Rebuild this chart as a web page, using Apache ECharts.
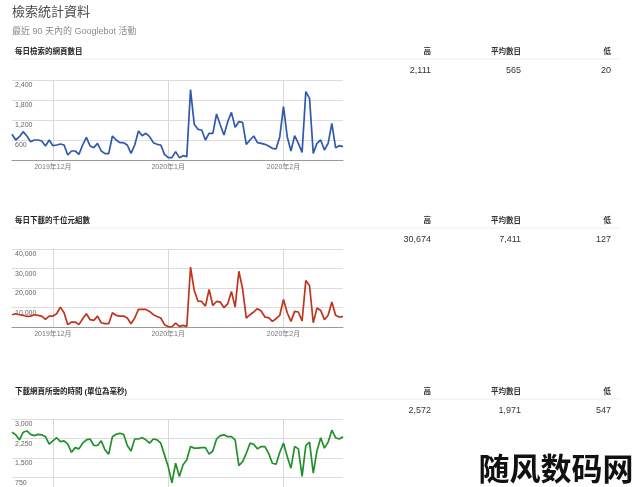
<!DOCTYPE html>
<html><head><meta charset="utf-8">
<script src="https://cdn.jsdelivr.net/npm/echarts@6/dist/echarts.min.js"></script>
<style>html,body{margin:0;padding:0;background:#fff;overflow:hidden}#c{width:640px;height:530px}</style>
</head><body><div id="c"></div>
<script>
// 90 daily points, 2019-11-20 .. 2020-02-17
const startDate = [2019, 10, 20];
const dayCount = 90;

const pagesCrawled = [770,600,700,850,720,550,600,600,570,420,600,430,450,480,450,150,270,270,170,450,
  680,420,370,500,270,190,190,720,600,520,520,450,200,450,870,730,800,700,520,470,
  450,170,70,70,250,70,130,100,2111,1070,920,900,600,800,800,1380,1050,750,1150,1430,
  980,1150,1130,470,600,720,520,500,470,420,350,330,700,1600,700,270,730,500,230,2050,
  1850,200,500,600,300,500,1100,370,430,400];
const kbDownloaded = [6300,6800,6300,6000,5400,5600,6300,6000,5600,3900,5600,5600,6800,10200,7300,1200,2550,2550,1200,4250,
  6800,3750,3400,5600,2200,1700,1700,7300,6000,5600,5600,4600,1700,4600,9000,9000,9000,8000,6300,5400,
  4600,1200,200,127,2000,350,850,350,30674,18700,13300,13100,10700,19200,11000,13100,12800,9900,11900,18200,
  10200,28600,19600,4600,6300,7700,9400,8200,5100,4800,2900,4250,6000,14100,7300,2900,8000,7700,3100,23800,
  21300,2200,9700,8500,3750,6000,12800,6000,5100,5400];
const downloadMs = [2490,2390,2200,2490,2540,2410,2360,2410,2390,2320,2030,2160,2280,2130,2160,2030,1720,1900,1850,2070,
  2200,2230,1980,1980,2160,1810,1650,2320,2410,2450,2410,1980,1770,2230,2230,2280,2200,2070,2230,2200,
  2070,1620,1170,547,1300,790,1240,1430,1940,1880,1880,1900,1900,1650,1770,2230,2360,2390,2320,2320,
  2200,1210,1360,1680,2070,2030,1850,1940,1940,1680,1300,1260,1720,2070,1560,1110,1940,1850,790,1980,
  2110,920,1770,2280,1880,2110,2572,2280,2230,2320];

const sectionTitles = ['每日檢索的網頁數目','每日下載的千位元組數','下載網頁所需的時間 (單位為毫秒)'];
const statHeaders = ['高','平均數目','低'];
const statValues = [['2,111','565','20'],['30,674','7,411','127'],['2,572','1,971','547']];
const yMax = [2400, 40000, 3000];
const yInterval = [600, 10000, 750];
const colors = ['#2f59ad','#c0331d','#22902a'];

const dates = [];
for (let i = 0; i < dayCount; i++) {
  const d = new Date(Date.UTC(startDate[0], startDate[1], startDate[2] + i));
  dates.push(d.getUTCFullYear() + '-' + String(d.getUTCMonth()+1).padStart(2,'0') + '-' + String(d.getUTCDate()).padStart(2,'0'));
}
const isMonthStart = (i, v) => (typeof v === 'string' ? v : dates[i]).endsWith('-01');

const FONT = 'Arial, "Liberation Sans", "Noto Sans CJK TC", sans-serif';
const chartTops = [80, 249, 419];
const chartHeights = [80, 78, 78];
const headerY = [52, 221, 392];
const valueY = [71, 240, 411];
const statRight = [431, 521, 611];
const seriesData = [pagesCrawled, kbDownloaded, downloadMs];

const grids = [], xAxes = [], yAxes = [], series = [], graphics = [];
graphics.push({type:'text', left:12, top:6, style:{text:'檢索統計資料', font:'13px ' + FONT, fill:'#4a4a4a'}});
graphics.push({type:'text', left:12, top:27, style:{text:'最近 90 天內的 Googlebot 活動', font:'9px ' + FONT, fill:'#8a8a8a'}});

for (let k = 0; k < 3; k++) {
  grids.push({left:12, width:331, top:chartTops[k], height:chartHeights[k]});
  xAxes.push({type:'category', gridIndex:k, data:dates, boundaryGap:false,
    axisLine:{lineStyle:{color:'#9a9a9a'}}, axisTick:{show:false},
    axisLabel:{interval:isMonthStart, fontSize:7, color:'#777', margin:4, fontFamily:FONT,
      formatter:v => { const p=v.split('-'); return p[0]+'年'+parseInt(p[1])+'月'; }},
    splitLine:{show:true, interval:isMonthStart, lineStyle:{color:'#d8d8d8'}}});
  yAxes.push({type:'value', gridIndex:k, min:0, max:yMax[k], interval:yInterval[k],
    axisLine:{show:false}, axisTick:{show:false},
    axisLabel:{inside:true, margin:3, align:'left', verticalAlign:'top', padding:[2,0,0,0], fontSize:7, color:'#666', fontFamily:FONT, showMinLabel:false},
    splitLine:{lineStyle:{color:'#dcdcdc'}}});
  series.push({type:'line', xAxisIndex:k, yAxisIndex:k, data:seriesData[k], symbol:'none',
    lineStyle:{color:colors[k], width:1.7}, itemStyle:{color:colors[k]}, animation:false});
  graphics.push({type:'text', left:15, top:headerY[k]-4, style:{text:sectionTitles[k], font:'bold 7.5px ' + FONT, fill:'#222'}});
  graphics.push({type:'line', shape:{x1:12, y1:headerY[k]+7, x2:620, y2:headerY[k]+7}, style:{stroke:'#eeeeee', lineWidth:1}});
  for (let j = 0; j < 3; j++) {
    graphics.push({type:'text', x:statRight[j], y:headerY[k], style:{text:statHeaders[j], font:'bold 7.5px ' + FONT, fill:'#333', textAlign:'right', textVerticalAlign:'middle'}});
    graphics.push({type:'text', x:statRight[j], y:valueY[k], style:{text:statValues[k][j], font:'9px ' + FONT, fill:'#333', textAlign:'right', textVerticalAlign:'middle'}});
  }
}
graphics.push({type:'text', x:556, y:468, z:100, style:{text:'随风数码网', font:'bold 31px "Noto Sans CJK SC", sans-serif', fill:'#111', stroke:'#fff', lineWidth:2, textAlign:'center', textVerticalAlign:'middle'}});

const chart = echarts.init(document.getElementById('c'));
chart.setOption({animation:false, grid:grids, xAxis:xAxes, yAxis:yAxes, series:series, graphic:graphics});
</script></body></html>
